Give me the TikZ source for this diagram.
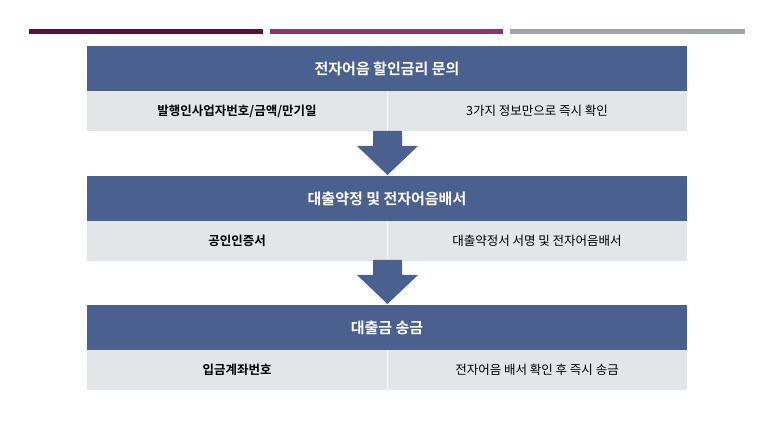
\documentclass[tikz,border=0pt]{standalone}
\usepackage{fontspec}
\setmainfont{Noto Sans CJK KR}
\newfontfamily\krb{Noto Sans CJK KR Bold}
\begin{document}
\begin{tikzpicture}[x=1pt,y=-1pt,
  hdr/.style={fill=hdrc,draw=none,text=white,font=\krb\fontsize{15}{18}\selectfont},
  cell/.style={fill=cellc,draw=white,line width=0.8pt},
  lab/.style={font=\krb\fontsize{12.5}{15}\selectfont},
  rlab/.style={font=\fontsize{12.5}{15}\selectfont},
  arr/.style={fill=hdrc}]
\definecolor{hdrc}{HTML}{4A6190}
\definecolor{cellc}{HTML}{E3E5E9}
\useasboundingbox (0,0) rectangle (773,435);
\fill[fill={rgb,255:red,80;green,22;blue,50}] (29,29) rectangle (263,34);
\fill[fill={rgb,255:red,142;green,54;blue,96}] (270,29) rectangle (503,34);
\fill[fill={rgb,255:red,160;green,163;blue,168}] (510,29) rectangle (745,34);
\foreach \y/\t/\l/\r [count=\i] in {46/전자어음 할인금리 문의/발행인사업자번호\slash 금액\slash 만기일/3가지 정보만으로 즉시 확인,
  176/대출약정 및 전자어음배서/공인인증서/대출약정서 서명 및 전자어음배서,
  305/대출금 송금/입금계좌번호/전자어음 배서 확인 후 즉시 송금}{
  \fill[hdrc] (87,\y) rectangle (687,\y+45);
  \node[hdr] (h\i) at (387,\y+22.5) {\t};
  \fill[cellc] (87,\y+45) rectangle (687,\y+85);
  \draw[white,line width=0.8pt] (387,\y+45) -- (387,\y+85);
  \node[lab] (l\i) at (237,\y+65) {\l};
  \node[rlab] (r\i) at (537,\y+65) {\r};
}
\foreach \y in {131,260}{
  \fill[hdrc] (373,\y) -- (402,\y) -- (402,\y+15) -- (418,\y+15) -- (387.5,\y+44) -- (357,\y+15) -- (373,\y+15) -- cycle;
}
\end{tikzpicture}
\end{document}
